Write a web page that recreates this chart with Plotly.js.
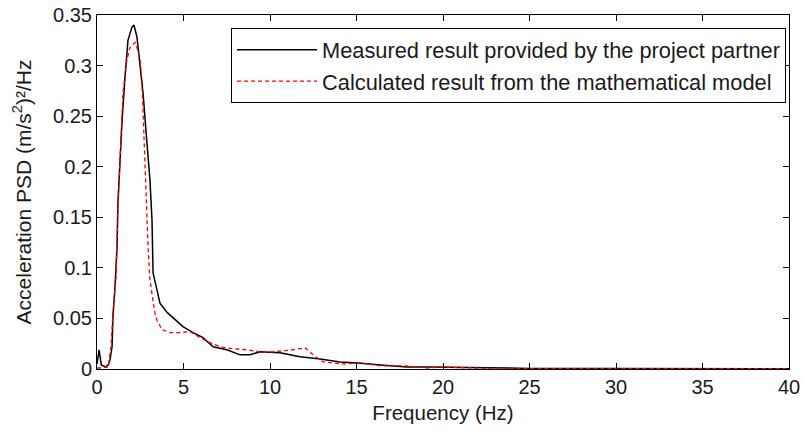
<!DOCTYPE html>
<html>
<head>
<meta charset="utf-8">
<script src="https://cdn.plot.ly/plotly-3.0.1.min.js"></script>
<style>html,body{margin:0;padding:0;background:#fff;}#chart{width:803px;height:434px;}</style>
</head>
<body>
<div id="chart"></div>
<script>
var measuredFreq = [0, 0.12, 0.25, 0.5, 0.65, 0.75, 0.87, 0.92, 1.04, 1.16, 1.21, 1.27, 1.45, 1.62, 1.79, 2.02, 2.14, 2.31, 2.49, 2.66, 2.89, 3.06, 3.18, 3.24, 3.47, 3.64, 4.05, 4.39, 4.97, 5.55, 6.13, 6.71, 7.51, 8.27, 8.84, 9.42, 10.58, 11.73, 12.9, 14.05, 15.1, 16.4, 17.9, 19.1, 20.5, 22, 25, 30, 35, 40];
var measuredPSD = [0.005, 0.019, 0.004, 0.002, 0.004, 0.009, 0.022, 0.051, 0.081, 0.121, 0.164, 0.187, 0.246, 0.289, 0.325, 0.338, 0.340, 0.328, 0.299, 0.273, 0.223, 0.187, 0.147, 0.095, 0.078, 0.065, 0.056, 0.051, 0.042, 0.036, 0.031, 0.022, 0.019, 0.014, 0.014, 0.017, 0.016, 0.012, 0.010, 0.007, 0.006, 0.004, 0.002, 0.002, 0.0015, 0.001, 0.0006, 0.0004, 0.0003, 0.0002];

var modelFreq = [0, 0.3, 0.64, 0.81, 0.92, 1.10, 1.21, 1.39, 1.50, 1.73, 1.91, 2.20, 2.31, 2.49, 2.60, 2.66, 2.77, 2.87, 2.95, 3.06, 3.24, 3.35, 3.47, 3.76, 4.22, 4.80, 5.38, 5.95, 6.53, 7.11, 7.86, 8.67, 9.42, 10.17, 11.33, 12.02, 12.49, 13.06, 13.64, 14.2, 15.2, 16.4, 17.9, 19.1, 20, 21.4, 22.5, 25, 30, 35, 40];
var modelPSD = [0.001, 0.001, 0.002, 0.022, 0.055, 0.091, 0.160, 0.223, 0.273, 0.306, 0.318, 0.323, 0.318, 0.306, 0.283, 0.256, 0.20, 0.16, 0.121, 0.088, 0.065, 0.055, 0.048, 0.039, 0.036, 0.036, 0.037, 0.031, 0.026, 0.022, 0.020, 0.019, 0.017, 0.017, 0.019, 0.021, 0.014, 0.007, 0.006, 0.005, 0.006, 0.003, 0.003, 0.001, 0.002, 0.001, 0.0005, 0.0004, 0.0003, 0.0003, 0.0003];

var seriesNames = ["Measured result provided by the project partner", "Calculated result from the mathematical model"];
var xTicks = [0, 5, 10, 15, 20, 25, 30, 35, 40];
var yTicks = [0, 0.05, 0.1, 0.15, 0.2, 0.25, 0.3, 0.35];
var yTickText = ["0", "0.05", "0.1", "0.15", "0.2", "0.25", "0.3", "0.35"];

var fontFam = "Liberation Sans, Arial, sans-serif";
var traces = [
  {x: measuredFreq, y: measuredPSD, type: "scatter", mode: "lines", name: seriesNames[0],
   line: {color: "#000000", width: 1.5}},
  {x: modelFreq, y: modelPSD, type: "scatter", mode: "lines", name: seriesNames[1],
   line: {color: "#ff0000", width: 1.3, dash: "4px,3px"}}
];
var axisCommon = {
  showline: true, linecolor: "#000000", linewidth: 1, mirror: "ticks",
  ticks: "inside", ticklen: 6, tickcolor: "#000000", showgrid: false, zeroline: false,
  tickfont: {family: fontFam, size: 20, color: "#1a1a1a"}
};
var layout = {
  width: 803, height: 434,
  margin: {l: 97, r: 14, t: 15, b: 65},
  paper_bgcolor: "#ffffff", plot_bgcolor: "#ffffff",
  showlegend: true,
  legend: {x: 0.9957, y: 0.963, xanchor: "right", yanchor: "top",
    bordercolor: "#000000", borderwidth: 1, bgcolor: "#ffffff",
    font: {family: fontFam, size: 21.8, color: "#1a1a1a"}, itemwidth: 80, tracegroupgap: 0},
  xaxis: Object.assign({}, axisCommon, {range: [0, 40], tickvals: xTicks,
    title: {text: "Frequency (Hz)", font: {family: fontFam, size: 20.5, color: "#1a1a1a"}, standoff: 8}}),
  yaxis: Object.assign({}, axisCommon, {range: [0, 0.35], tickvals: yTicks, ticktext: yTickText,
    title: {text: "Acceleration PSD (m/s<sup>2</sup>)²/Hz", font: {family: fontFam, size: 21, color: "#1a1a1a"}, standoff: 15}})
};
Plotly.newPlot("chart", traces, layout, {displayModeBar: false, staticPlot: true});
</script>
</body>
</html>
